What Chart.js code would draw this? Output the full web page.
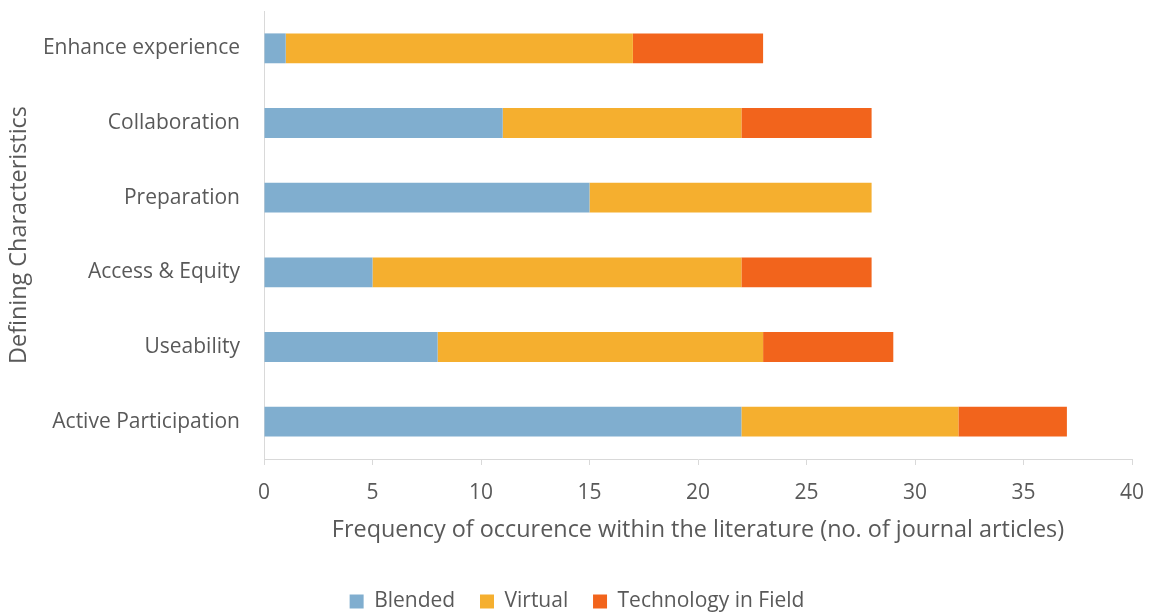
<!DOCTYPE html>
<html>
<head>
<meta charset="utf-8">
<script src="https://cdn.jsdelivr.net/npm/chart.js@4/dist/chart.umd.min.js"></script>
<style>
  html, body { margin: 0; padding: 0; background: #fff; }
  #wrap { width: 1149px; height: 612px; }
</style>
</head>
<body>
<div id="wrap"><canvas id="chart" width="1149" height="612"></canvas></div>
<script>
const categories = [
  "Enhance experience",
  "Collaboration",
  "Preparation",
  "Access & Equity",
  "Useability",
  "Active Participation",
];
const blended = [1, 11, 15, 5, 8, 22];
const virtual = [16, 11, 13, 17, 15, 10];
const techInField = [6, 6, 0, 6, 6, 5];
const xTicks = [0, 5, 10, 15, 20, 25, 30, 35, 40];

const textGrey = "#595959";
const lineGrey = "#d9d9d9";
const fontFamily = "'Open Sans', sans-serif";

const datasetStyle = {
  barPercentage: 0.4,
  categoryPercentage: 1,
  borderWidth: 0,
};

// keep the plot edges fixed instead of letting tick labels push them in
function setEdgePadding(scale, right) {
  scale.paddingTop = 0;
  scale.paddingBottom = 0;
  scale.paddingLeft = 0;
  scale.paddingRight = right;
}

const config = {
  type: "bar",
  data: {
    labels: categories,
    datasets: [
      { label: "Blended", data: blended, backgroundColor: "#80aecf", ...datasetStyle },
      { label: "Virtual", data: virtual, backgroundColor: "#f5af2f", ...datasetStyle },
      { label: "Technology in Field", data: techInField, backgroundColor: "#f2641c", ...datasetStyle },
    ],
  },
  options: {
    indexAxis: "y",
    responsive: false,
    animation: false,
    layout: { padding: { top: 11, right: 0, left: 5, bottom: -10 } },
    plugins: {
      legend: {
        position: "bottom",
        labels: {
          color: textGrey,
          font: { family: fontFamily, size: 21 },
          boxWidth: 14,
          boxHeight: 14,
          padding: 3,
          // trailing spaces widen the gap between entries
          generateLabels: (chart) =>
            Chart.defaults.plugins.legend.labels.generateLabels(chart).map((item, i, all) => {
              if (i < all.length - 1) item.text = item.text + "    ";
              return item;
            }),
        },
      },
      tooltip: { enabled: false },
    },
    scales: {
      x: {
        stacked: true,
        min: 0,
        max: 40,
        afterBuildTicks: (scale) => {
          scale.ticks = xTicks.map((v) => ({ value: v }));
        },
        afterFit: (scale) => {
          scale.height = 129;
          setEdgePadding(scale, 17);
        },
        border: { display: true, color: lineGrey, width: 1 },
        grid: {
          display: true,
          drawOnChartArea: false,
          drawTicks: true,
          tickLength: 6,
          color: lineGrey,
        },
        ticks: {
          color: textGrey,
          font: { family: fontFamily, size: 21 },
          padding: 15,
        },
        title: {
          display: true,
          text: "Frequency of occurence within the literature (no. of journal articles)",
          color: textGrey,
          font: { family: fontFamily, size: 23.4 },
          padding: { top: 4, bottom: 44 },
        },
      },
      y: {
        stacked: true,
        afterFit: (scale) => {
          scale.width = 259;
          setEdgePadding(scale, 0);
        },
        border: { display: true, color: lineGrey, width: 1 },
        grid: { display: false },
        ticks: {
          color: textGrey,
          font: { family: fontFamily, size: 21 },
          padding: 16,
        },
        title: {
          display: true,
          text: "Defining Characteristics",
          color: textGrey,
          font: { family: fontFamily, size: 23.4 },
          padding: { top: 0, bottom: 0 },
        },
      },
    },
  },
};

new Chart(document.getElementById("chart"), config);
</script>
</body>
</html>
